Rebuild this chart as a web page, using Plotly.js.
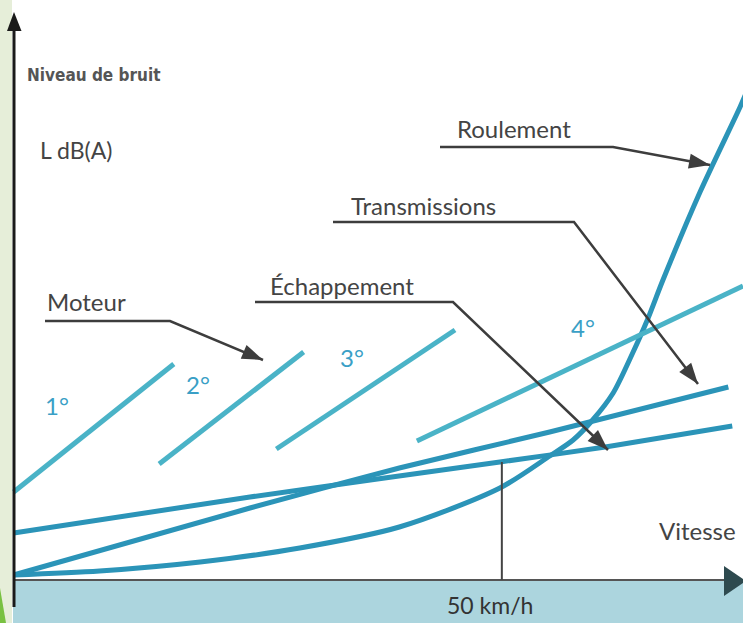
<!DOCTYPE html>
<html>
<head>
<meta charset="utf-8">
<script src="https://cdn.plot.ly/plotly-3.0.1.min.js"></script>
<style>html,body{margin:0;padding:0;background:#fff;}#chart{width:743px;height:623px;}</style>
</head>
<body>
<div id="chart"></div>
<script>
// ---- Data (speed in km/h, noise level in arbitrary units) ----
const speedRoulement = [0, 8.8, 19.1, 29.3, 39.5, 49.8, 54.9, 57.3, 59.3, 61.4, 63.4, 64.9, 66.5, 70.3, 74.4, 75.2];
const levelRoulement = [0.3, 0.7, 1.6, 3.0, 5.1, 9.0, 12.2, 13.8, 15.8, 18.5, 22.5, 25.8, 29.8, 38.6, 47.1, 48.9];

const speedTransmissions = [0, 24.2, 39.5, 54.9, 73.2];
const levelTransmissions = [0.3, 7.0, 11.0, 14.6, 19.1];

const speedEchappement = [0, 24.2, 49.8, 60.6, 73.6];
const levelEchappement = [4.5, 8.1, 11.6, 13.1, 15.2];

const gearLabels = ["1°", "2°", "3°", "4°"];
const gearSpeeds = [[0, 16.4], [14.9, 29.7], [26.9, 45.2], [41.3, 74.7]];
const gearLevels = [[8.6, 21.4], [11.4, 22.6], [12.9, 24.8], [13.7, 29.2]];

const markerSpeed = 50;   // 50 km/h reference
const markerTop = 11.6;

// ---- helpers: pixel -> paper (plot area = whole figure) ----
const W = 743, H = 623;
const X = p => p / W;
const Y = p => 1 - p / H;

const dark = '#2b94b8';
const light = '#4ab3c7';
const grey = '#3d3d3d';

const traces = [];
traces.push({x: speedRoulement, y: levelRoulement, mode: 'lines', line: {color: dark, width: 5, shape: 'spline', smoothing: 0.8}, hoverinfo: 'skip'});
traces.push({x: speedTransmissions, y: levelTransmissions, mode: 'lines', line: {color: dark, width: 5, shape: 'spline', smoothing: 0.6}, hoverinfo: 'skip'});
traces.push({x: speedEchappement, y: levelEchappement, mode: 'lines', line: {color: dark, width: 5, shape: 'spline', smoothing: 0.6}, hoverinfo: 'skip'});
gearSpeeds.forEach((s, i) => {
  traces.push({x: s, y: gearLevels[i], mode: 'lines', line: {color: light, width: 5}, hoverinfo: 'skip'});
});

const shapes = [
  // left light green strip
  {type: 'rect', xref: 'paper', yref: 'paper', x0: 0, x1: X(12), y0: 0, y1: 1, fillcolor: '#e6eed9', line: {width: 0}, layer: 'below'},
  // bottom blue band
  {type: 'rect', xref: 'paper', yref: 'paper', x0: X(13), x1: 1, y0: 0, y1: Y(580), fillcolor: '#acd5de', line: {width: 0}, layer: 'below'},
  // green wedge
  {type: 'path', xref: 'paper', yref: 'paper', path: `M0,${Y(588)} L${X(6)},0 L0,0 Z`, fillcolor: '#79c142', line: {width: 0}, layer: 'below'},
  // horizontal axis
  {type: 'line', xref: 'paper', yref: 'paper', x0: X(14), x1: X(726), y0: Y(580), y1: Y(580), line: {color: '#555', width: 2}},
  {type: 'path', xref: 'paper', yref: 'paper', path: `M${X(724)},${Y(566)} L${X(746)},${Y(581)} L${X(724)},${Y(596)} Z`, fillcolor: '#2e4a4f', line: {width: 0}},
  // vertical axis
  {type: 'line', xref: 'paper', yref: 'paper', x0: X(14), x1: X(14), y0: Y(607), y1: Y(28), line: {color: '#1a1a1a', width: 3}},
  {type: 'path', xref: 'paper', yref: 'paper', path: `M${X(7)},${Y(31)} L${X(14)},${Y(12)} L${X(21.5)},${Y(31)} Z`, fillcolor: '#1a1a1a', line: {width: 0}},
  // 50 km/h marker
  {type: 'line', xref: 'x', yref: 'y', x0: markerSpeed, x1: markerSpeed, y0: -0.2, y1: markerTop, line: {color: '#444', width: 2}}
];

// leader lines: start -> elbow -> tip with a filled arrowhead
function leader(sx, sy, ex, ey, tx, ty) {
  shapes.push({type: 'path', xref: 'paper', yref: 'paper',
    path: `M${X(sx)},${Y(sy)} L${X(ex)},${Y(ey)} L${X(tx)},${Y(ty)}`,
    line: {color: grey, width: 2.5}, fillcolor: 'rgba(0,0,0,0)'});
  const dx = tx - ex, dy = ty - ey, len = Math.hypot(dx, dy);
  const ux = dx / len, uy = dy / len, L = 21, hw = 7.5;
  const bx = tx - ux * L, by = ty - uy * L;
  const p1x = bx - uy * hw, p1y = by + ux * hw;
  const p2x = bx + uy * hw, p2y = by - ux * hw;
  shapes.push({type: 'path', xref: 'paper', yref: 'paper',
    path: `M${X(tx)},${Y(ty)} L${X(p1x)},${Y(p1y)} L${X(p2x)},${Y(p2y)} Z`,
    fillcolor: grey, line: {width: 0}});
}
leader(440, 147, 613, 147, 710, 165);
leader(333, 222, 574, 222, 698, 384);
leader(255, 302, 453, 302, 608, 450);
leader(45, 321, 170, 321, 263, 360);

function label(text, cx, cy, size, color, family) {
  return {xref: 'paper', yref: 'paper', x: X(cx), y: Y(cy), xanchor: 'center', yanchor: 'middle', showarrow: false,
    text: text, font: {size: size, color: color, family: family || 'Lato, "Open Sans", sans-serif'}};
}

const gearPos = [[57, 405], [198, 384], [352, 357], [583, 327]];
const annotations = [
  label('<b>Niveau de bruit</b>', 94, 75, 17, '#555', '"Liberation Sans Narrow", "DejaVu Sans Condensed", sans-serif'),
  label('L dB(A)', 76, 150, 23, '#444'),
  label('Roulement', 514, 128, 24, '#444'),
  label('Transmissions', 423, 205, 24, '#444'),
  label('Échappement', 342, 285, 24, '#444'),
  label('Moteur', 86, 302, 24, '#444'),
  label('Vitesse', 697, 530, 24, '#444'),
  label('50 km/h', 490, 605, 23, '#333')
];
gearLabels.forEach((g, i) => annotations.push(label(g, gearPos[i][0], gearPos[i][1], 24, '#3a9fc6')));

const layout = {
  width: W, height: H,
  margin: {l: 0, r: 0, t: 0, b: 0, pad: 0},
  paper_bgcolor: '#ffffff', plot_bgcolor: 'rgba(0,0,0,0)',
  showlegend: false,
  xaxis: {visible: false, range: [-1.4, 74.7], fixedrange: true},
  yaxis: {visible: false, range: [-4.5, 57.8], fixedrange: true},
  shapes: shapes,
  annotations: annotations
};

Plotly.newPlot('chart', traces, layout, {displayModeBar: false, staticPlot: true});
</script>
</body>
</html>
